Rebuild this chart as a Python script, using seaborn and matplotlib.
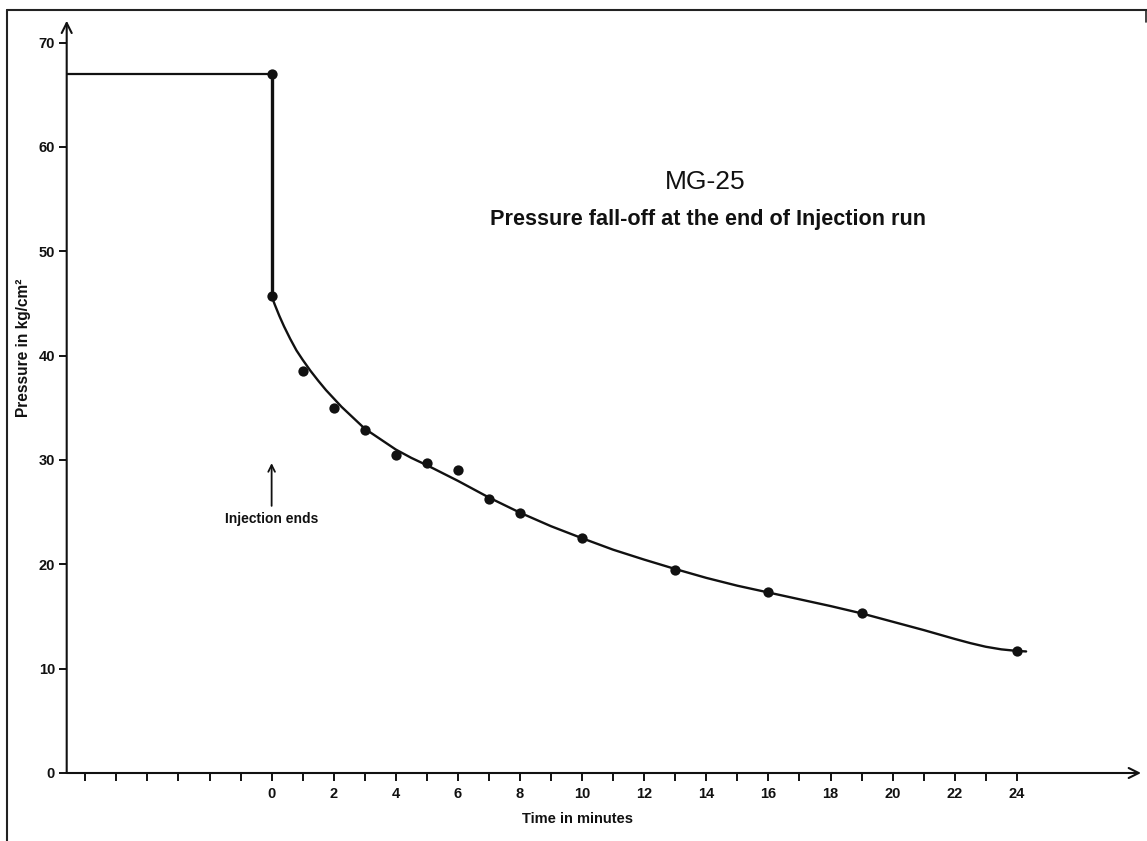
import numpy as np
import pandas as pd
import seaborn as sns
import matplotlib
matplotlib.use("Agg")
import matplotlib.pyplot as plt
from matplotlib.lines import Line2D

# ---------------- data ----------------
obs_time = [0, 0, 1, 2, 3, 4, 5, 6, 7, 8, 10, 13, 16, 19, 24]
obs_pressure = [67.0, 45.7, 38.5, 35.0, 32.9, 30.5, 29.7, 29.0, 26.3, 24.9,
                22.5, 19.5, 17.3, 15.3, 11.7]

# hand-drawn smooth fall-off curve
curve_time = [0, 0.1, 0.25, 0.4, 0.6, 0.8, 1.0, 1.25, 1.5, 1.75, 2.0, 2.25,
              2.5, 2.75, 3.0, 3.5, 4.0, 4.5, 5.0, 5.5, 6, 7, 8, 9, 10, 11,
              12, 13, 14, 15, 16, 17, 18, 19, 20, 21, 22, 22.5, 23, 23.5,
              24, 24.3]
curve_pressure = [45.7, 44.9, 43.8, 42.8, 41.6, 40.5, 39.6, 38.55, 37.6, 36.7,
                  35.9, 35.1, 34.4, 33.7, 33.0, 32.0, 31.0, 30.2, 29.5, 28.75,
                  28.0, 26.4, 24.95, 23.65, 22.5, 21.4, 20.45, 19.55, 18.7,
                  17.95, 17.3, 16.65, 16.0, 15.3, 14.5, 13.7, 12.85, 12.45,
                  12.1, 11.85, 11.7, 11.65]

injection_pressure = 67.0   # pressure held during injection
shut_in_pressure = 45.7     # pressure right after injection ends

x_major_ticks = list(range(0, 25, 2))
x_tick_labels = [str(t) for t in x_major_ticks]
x_minor_ticks = list(range(-6, 0)) + list(range(1, 24, 2))
y_ticks = list(range(0, 71, 10))
y_tick_labels = [str(t) for t in y_ticks]

title_main = "MG-25"
title_sub = "Pressure fall-off at the end of Injection run"
x_label = "Time in minutes"
y_label = "Pressure in kg/cm\u00b2"
note_text = "Injection ends"

# ---------------- style ----------------
sns.set_theme(style="white")
plt.rcParams["font.family"] = ["Liberation Sans", "DejaVu Sans"]

W, H = 1147, 841
fig = plt.figure(figsize=(W / 100, H / 100), dpi=100)
fig.patch.set_facecolor("white")

ax_left, ax_right, ax_bottom, ax_top = 66.7, 1141, 773, 20.7
ax = fig.add_axes([ax_left / W, (H - ax_bottom) / H,
                   (ax_right - ax_left) / W, (ax_bottom - ax_top) / H])
ax.set_facecolor("white")
ax.set_xlim(-6.6, 28.0)
ax.set_ylim(0, 72.1)

ink = "#111111"

# step: constant injection pressure, then sudden drop at t = 0
x0 = ax.get_xlim()[0]
step_df = pd.DataFrame({"t": [x0, 0, 0],
                        "p": [injection_pressure, injection_pressure, shut_in_pressure]})
sns.lineplot(data=step_df.iloc[:2], x="t", y="p", ax=ax, color=ink, lw=1.6,
             sort=False, estimator=None)
sns.lineplot(data=step_df.iloc[1:], x="t", y="p", ax=ax, color=ink, lw=2.4,
             sort=False, estimator=None)

# fitted fall-off curve
curve_df = pd.DataFrame({"t": curve_time, "p": curve_pressure})
line = sns.lineplot(data=curve_df, x="t", y="p", ax=ax, color=ink, lw=1.7,
                    sort=False, estimator=None)
for ln in ax.lines:
    ln.set_solid_joinstyle("round")
    ln.set_solid_capstyle("round")

# observations
obs_df = pd.DataFrame({"t": obs_time, "p": obs_pressure})
sns.scatterplot(data=obs_df, x="t", y="p", ax=ax, color=ink, s=55,
                linewidth=0, zorder=5)

# ---------------- axes as arrows ----------------
for s in ax.spines.values():
    s.set_visible(False)
arrow_kw = dict(arrowstyle="->", lw=1.5, color=ink, shrinkA=0, shrinkB=0,
                mutation_scale=18)
ax.annotate("", xy=(1, 0), xytext=(0, 0), xycoords="axes fraction",
            textcoords="axes fraction", arrowprops=arrow_kw, annotation_clip=False)
ax.annotate("", xy=(0, 1), xytext=(0, 0), xycoords="axes fraction",
            textcoords="axes fraction", arrowprops=arrow_kw, annotation_clip=False)

# ticks
ax.set_xticks(x_major_ticks)
ax.set_xticklabels(x_tick_labels, fontsize=10.5, fontweight="bold", color=ink)
ax.set_xticks(x_minor_ticks, minor=True)
ax.tick_params(axis="x", which="both", direction="out", length=6, width=1.4,
               bottom=True, top=False, pad=4, colors=ink)
ax.set_yticks(y_ticks)
ax.set_yticklabels(y_tick_labels, fontsize=10.5, fontweight="bold", color=ink)
ax.tick_params(axis="y", which="both", direction="out", length=5.5, width=1.4,
               left=True, right=False, pad=3, colors=ink)

# labels
ax.set_xlabel(x_label, fontsize=10.5, fontweight="bold", color=ink, va="center")
ax.xaxis.set_label_coords((578 - ax_left) / (ax_right - ax_left),
                          -(819 - ax_bottom) / (ax_bottom - ax_top))
ax.set_ylabel(y_label, fontsize=11.2, fontweight="bold", color=ink, va="center")
ax.yaxis.set_label_coords((24 - ax_left) / (ax_right - ax_left),
                          (ax_bottom - 348) / (ax_bottom - ax_top))

# titles
fig.text(705 / W, 1 - 182 / H, title_main, ha="center", va="center",
         fontsize=19, color=ink)
fig.text(707.5 / W, 1 - 220 / H, title_sub, ha="center", va="center",
         fontsize=15.6, fontweight="bold", color=ink)

# annotation
ax.annotate("", xy=(0, 29.7), xytext=(0, 25.6),
            arrowprops=dict(arrowstyle="->", lw=1.3, color=ink, shrinkA=0,
                            shrinkB=0, mutation_scale=12))
ax.text(0, 24.3, note_text, ha="center", va="center", fontsize=10,
        fontweight="bold", color=ink)

# page border from the scan
fig.add_artist(Line2D([7.5 / W, 7.5 / W], [0, 1 - 10 / H],
                      transform=fig.transFigure, color="#222222", lw=1.5))
fig.add_artist(Line2D([7.5 / W, 1], [1 - 10 / H, 1 - 10 / H],
                      transform=fig.transFigure, color="#222222", lw=1.5))
fig.add_artist(Line2D([1145.5 / W, 1145.5 / W], [1 - 10 / H, 1 - 22 / H],
                      transform=fig.transFigure, color="#222222", lw=1.2))

fig.savefig("out.png", dpi=100, facecolor="white")
